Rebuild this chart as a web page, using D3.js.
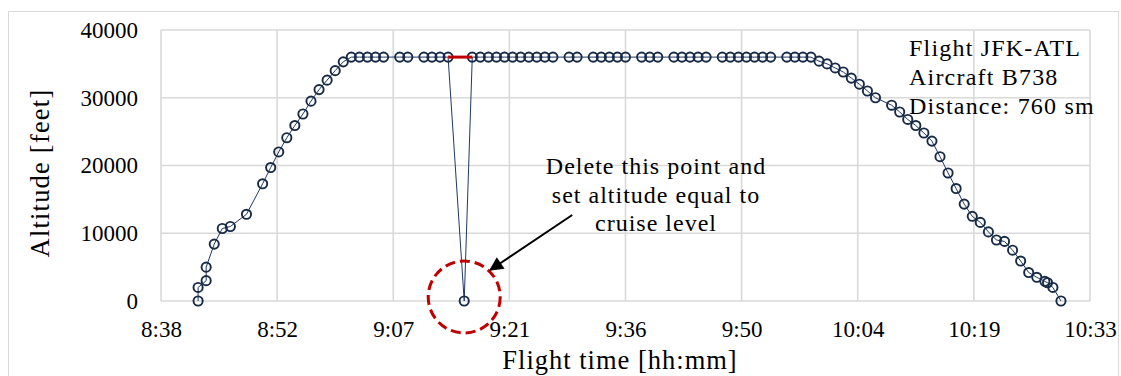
<!DOCTYPE html>
<html>
<head>
<meta charset="utf-8">
<script src="https://cdn.jsdelivr.net/npm/d3@7"></script>
<style>
  html, body { margin: 0; padding: 0; background: #fff; }
  svg { display: block; }
  text { font-family: "Liberation Serif", "DejaVu Serif", serif; fill: #000; }
</style>
</head>
<body>
<svg id="chart" width="1121" height="376"></svg>
<script>
// Recorded flight track, JFK -> ATL (time of day, altitude in feet)
const times = [
  "8:43","8:43","8:44","8:44","8:45","8:46","8:47","8:49","8:51","8:52",
  "8:53","8:54","8:55","8:56","8:57","8:58","8:59","9:00","9:01","9:02",
  "9:03","9:04","9:05","9:06","9:08","9:09","9:11","9:12","9:13","9:14",
  "9:16","9:17","9:18","9:19","9:20","9:21","9:22","9:23","9:24","9:25",
  "9:26","9:27","9:29","9:30","9:32","9:33","9:34","9:35","9:36","9:38",
  "9:39","9:40","9:42","9:43","9:44","9:45","9:46","9:48","9:49","9:50",
  "9:51","9:52","9:53","9:54","9:56","9:57","9:58","9:59","10:00","10:01",
  "10:02","10:03","10:04","10:05","10:06","10:07","10:09","10:10","10:11","10:12",
  "10:13","10:14","10:15","10:16","10:17","10:18","10:19","10:20","10:21","10:22",
  "10:23","10:24","10:25","10:26","10:27","10:28","10:28:20","10:29","10:30"
];
const altitudes = [
  0, 2000, 3000, 5000, 8400, 10700, 11000, 12800, 17300, 19700,
  22000, 24100, 25900, 27600, 29500, 31200, 32600, 34000, 35300, 36000,
  36000, 36000, 36000, 36000, 36000, 36000, 36000, 36000, 36000, 36000,
  0, 36000, 36000, 36000, 36000, 36000, 36000, 36000, 36000, 36000,
  36000, 36000, 36000, 36000, 36000, 36000, 36000, 36000, 36000, 36000,
  36000, 36000, 36000, 36000, 36000, 36000, 36000, 36000, 36000, 36000,
  36000, 36000, 36000, 36000, 36000, 36000, 36000, 36000, 35400, 35000,
  34400, 33800, 32900, 32000, 31000, 30000, 28900, 27900, 26800, 25900,
  24800, 23600, 21300, 18900, 16600, 14300, 12500, 11600, 10200, 9000,
  8800, 7500, 5900, 4200, 3500, 2900, 2700, 2000, 0
];

// Axis ticks: x ticks every 0.01 day, labelled as hh:mm
const xTickDays = [0.36, 0.37, 0.38, 0.39, 0.40, 0.41, 0.42, 0.43, 0.44];
const xTickLabels = ["8:38", "8:52", "9:07", "9:21", "9:36", "9:50", "10:04", "10:19", "10:33"];
const yTicks = [0, 10000, 20000, 30000, 40000];

// Faulty reading and the cruise segment that replaces it
const spikeTime = "9:16";
const cruiseAltitude = 36000;
const repairSpan = ["9:14", "9:17"];

const infoLines = ["Flight JFK-ATL", "Aircraft B738", "Distance: 760 sm"];
const noteLines = ["Delete this point and", "set altitude equal to", "cruise level"];

const toMinutes = s => {
  const p = s.split(":").map(Number);
  return p[0] * 60 + p[1] + (p[2] || 0) / 60;
};
const data = times.map((t, i) => ({ t: toMinutes(t), alt: altitudes[i] }));

const svg = d3.select("#chart");
const plotLeft = 161, plotRight = 1090, plotTop = 30, plotBottom = 301;

const x = d3.scaleLinear().domain([xTickDays[0] * 1440, xTickDays[xTickDays.length - 1] * 1440]).range([plotLeft, plotRight]);
const y = d3.scaleLinear().domain([0, 40000]).range([plotBottom, plotTop]);

// Outer chart frame
svg.append("rect")
  .attr("x", 8.5).attr("y", 11.5).attr("width", 1110).attr("height", 400)
  .attr("fill", "none").attr("stroke", "#d9d9d9").attr("stroke-width", 1);

// Gridlines
const grid = svg.append("g").attr("stroke", "#d9d9d9").attr("stroke-width", 1.6);
grid.selectAll("line.h").data(yTicks).join("line").attr("class", "h")
  .attr("x1", plotLeft).attr("x2", plotRight)
  .attr("y1", d => y(d)).attr("y2", d => y(d));
grid.selectAll("line.v").data(xTickDays).join("line").attr("class", "v")
  .attr("x1", d => x(d * 1440)).attr("x2", d => x(d * 1440))
  .attr("y1", plotTop).attr("y2", plotBottom);

// Axes (labels only; lines come from the grid)
const xAxis = d3.axisBottom(x)
  .tickValues(xTickDays.map(d => d * 1440))
  .tickFormat((d, i) => xTickLabels[i])
  .tickSize(0).tickPadding(20);
svg.append("g").attr("transform", `translate(0,${plotBottom})`).call(xAxis)
  .call(g => g.select(".domain").remove())
  .selectAll("text").attr("font-size", 23).attr("fill", "#000");

const yAxis = d3.axisLeft(y).tickValues(yTicks).tickFormat(d3.format("d")).tickSize(0).tickPadding(23);
svg.append("g").attr("transform", `translate(${plotLeft},0)`).call(yAxis)
  .call(g => g.select(".domain").remove())
  .selectAll("text").attr("font-size", 23).attr("fill", "#000");

// Altitude trace
const line = d3.line().x(d => x(d.t)).y(d => y(d.alt));
svg.append("path").datum(data)
  .attr("d", line).attr("fill", "none")
  .attr("stroke", "#1f3864").attr("stroke-width", 1);

svg.append("g").selectAll("circle").data(data).join("circle")
  .attr("cx", d => x(d.t)).attr("cy", d => y(d.alt)).attr("r", 4.6)
  .attr("fill", "none").attr("stroke", "#172a46").attr("stroke-width", 1.9);

// Corrected cruise segment
svg.append("line")
  .attr("x1", x(toMinutes(repairSpan[0]))).attr("x2", x(toMinutes(repairSpan[1])))
  .attr("y1", y(cruiseAltitude)).attr("y2", y(cruiseAltitude))
  .attr("stroke", "#c00000").attr("stroke-width", 3);

// Highlight of the faulty reading
const sx = x(toMinutes(spikeTime)), sy = y(0);
svg.append("circle")
  .attr("cx", sx).attr("cy", sy - 4).attr("r", 36)
  .attr("fill", "none").attr("stroke", "#c00000").attr("stroke-width", 3)
  .attr("stroke-dasharray", "10 5");

// Arrow pointing at the highlight
svg.append("defs").append("marker")
  .attr("id", "arrowhead").attr("viewBox", "0 0 10 10")
  .attr("refX", 9).attr("refY", 5)
  .attr("markerWidth", 8).attr("markerHeight", 7)
  .attr("markerUnits", "strokeWidth").attr("orient", "auto")
  .append("path").attr("d", "M0,0 L10,5 L0,10 Z").attr("fill", "#000");
svg.append("line")
  .attr("x1", sx + 108).attr("y1", sy - 86)
  .attr("x2", sx + 26).attr("y2", sy - 31)
  .attr("stroke", "#000").attr("stroke-width", 2)
  .attr("marker-end", "url(#arrowhead)");

// Note text
svg.append("text")
  .attr("x", 656).attr("y", 174)
  .attr("text-anchor", "middle").attr("font-size", 24).attr("letter-spacing", 1)
  .selectAll("tspan").data(noteLines).join("tspan")
  .attr("x", 656).attr("dy", (d, i) => i === 0 ? 0 : 28.5)
  .text(d => d);

// Flight information
svg.append("text")
  .attr("x", 909).attr("y", 56)
  .attr("font-size", 24).attr("letter-spacing", 1.2)
  .selectAll("tspan").data(infoLines).join("tspan")
  .attr("x", 909).attr("dy", (d, i) => i === 0 ? 0 : 29)
  .text(d => d);

// Axis titles
svg.append("text")
  .attr("transform", "translate(49,173) rotate(-90)")
  .attr("text-anchor", "middle").attr("font-size", 26.5).attr("letter-spacing", 1.2)
  .text("Altitude [feet]");
svg.append("text")
  .attr("x", 620).attr("y", 369)
  .attr("text-anchor", "middle").attr("font-size", 26.5).attr("letter-spacing", 1)
  .text("Flight time [hh:mm]");
</script>
</body>
</html>
